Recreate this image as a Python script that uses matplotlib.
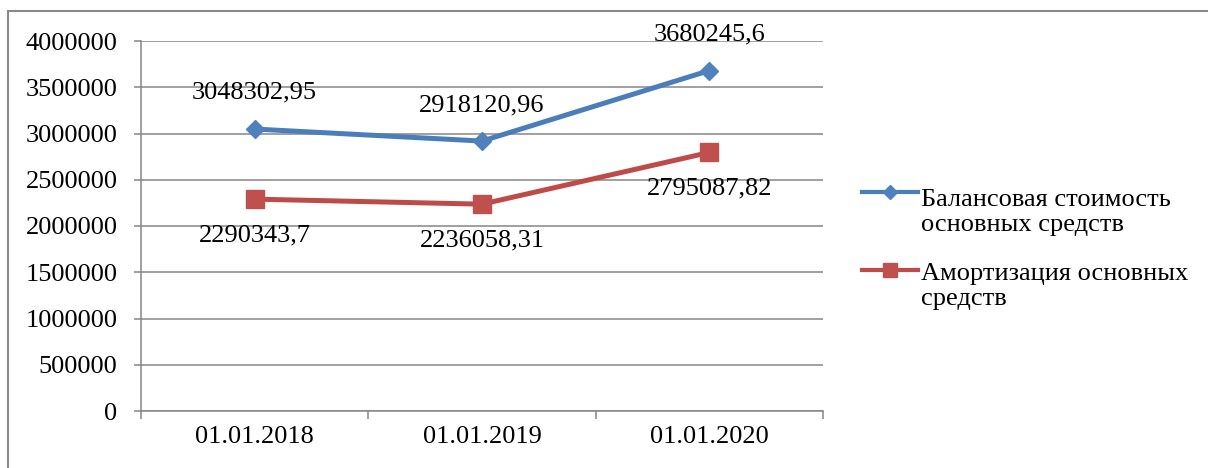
import matplotlib
matplotlib.use("Agg")
import matplotlib.pyplot as plt
import matplotlib.patches as patches
from matplotlib.lines import Line2D

plt.rcParams['font.family'] = ['Liberation Serif', 'DejaVu Serif']

# Data
dates = ['01.01.2018', '01.01.2019', '01.01.2020']
balance = [3048302.95, 2918120.96, 3680245.6]
amort = [2290343.7, 2236058.31, 2795087.82]
balance_labels = ['3048302,95', '2918120,96', '3680245,6']
amort_labels = ['2290343,7', '2236058,31', '2795087,82']
legend_labels = ['Балансовая стоимость\nосновных средств',
                 'Амортизация основных\nсредств']

blue, blue_m = '#4A7EBB', '#4F81BD'
red, red_m = '#BE4B48', '#C0504D'
grey = '#868686'
fs = 19

dpi = 100
fig = plt.figure(figsize=(12.08, 4.68), dpi=dpi, facecolor='white')
ax = fig.add_axes([141/1208, 1-411/468, (823-141)/1208, (411-41)/468])

x = [1, 2, 3]
ax.plot(x, balance, color=blue, lw=3.6, marker='D', ms=9.5,
        mfc=blue_m, mec=blue_m, zorder=3)
ax.plot(x, amort, color=red, lw=3.6, marker='s', ms=13,
        mfc=red_m, mec=red_m, zorder=3)

# Data labels
for xi, v, t in zip(x, balance, balance_labels):
    ax.annotate(t, (xi, v), xytext=(0, 26), textcoords='offset points',
                ha='center', va='center', fontsize=fs)
for xi, v, t in zip(x, amort, amort_labels):
    ax.annotate(t, (xi, v), xytext=(0, -26), textcoords='offset points',
                ha='center', va='center', fontsize=fs)

# Axes
ax.set_xlim(0.5, 3.5)
ax.set_ylim(0, 4000000)
ax.set_yticks(range(0, 4000001, 500000))
ax.set_yticklabels([str(v) for v in range(0, 4000001, 500000)])
ax.set_xticks(x)
ax.set_xticklabels(dates)
ax.set_xticks([0.5, 1.5, 2.5, 3.5], minor=True)
ax.tick_params(axis='x', which='major', length=0, pad=11, labelsize=fs)
ax.tick_params(axis='x', which='minor', length=6, width=1.1, color=grey,
               direction='out')
ax.tick_params(axis='y', length=5, width=1.1, color=grey, pad=12,
               labelsize=fs)
ax.grid(axis='y', color=grey, lw=1.1)
ax.set_axisbelow(True)
for s in ['top', 'right']:
    ax.spines[s].set_visible(False)
for s in ['left', 'bottom']:
    ax.spines[s].set_color(grey)
    ax.spines[s].set_linewidth(1.1)

# Legend (handle aligned with first text line); baseline of last line
legend_px = [192, 270]
last_base_px = [231, 305]
handles = [(blue, blue_m, 'D', 7), (red, red_m, 's', 10)]
for (c, mc, m, ms), lp, bp, lab in zip(handles, legend_px, last_base_px,
                                       legend_labels):
    ly = 1 - lp/468
    fig.add_artist(Line2D([862/1208, 918/1208], [ly, ly], color=c, lw=3,
                          transform=fig.transFigure))
    fig.add_artist(Line2D([890/1208], [ly], marker=m, ms=ms, mfc=mc,
                          mec=mc, transform=fig.transFigure))
    fig.text(921/1208, 1 - bp/468, lab, fontsize=fs, va='baseline',
             ha='left', linespacing=1.17)

# Outer frame
frame = patches.Rectangle((8/1208, -0.1), 1.2, 1-11/468+0.1,
                          transform=fig.transFigure, fill=False,
                          ec='#8A8A8A', lw=1.5, clip_on=False)
fig.add_artist(frame)

plt.savefig('out.png', dpi=dpi, facecolor='white')
